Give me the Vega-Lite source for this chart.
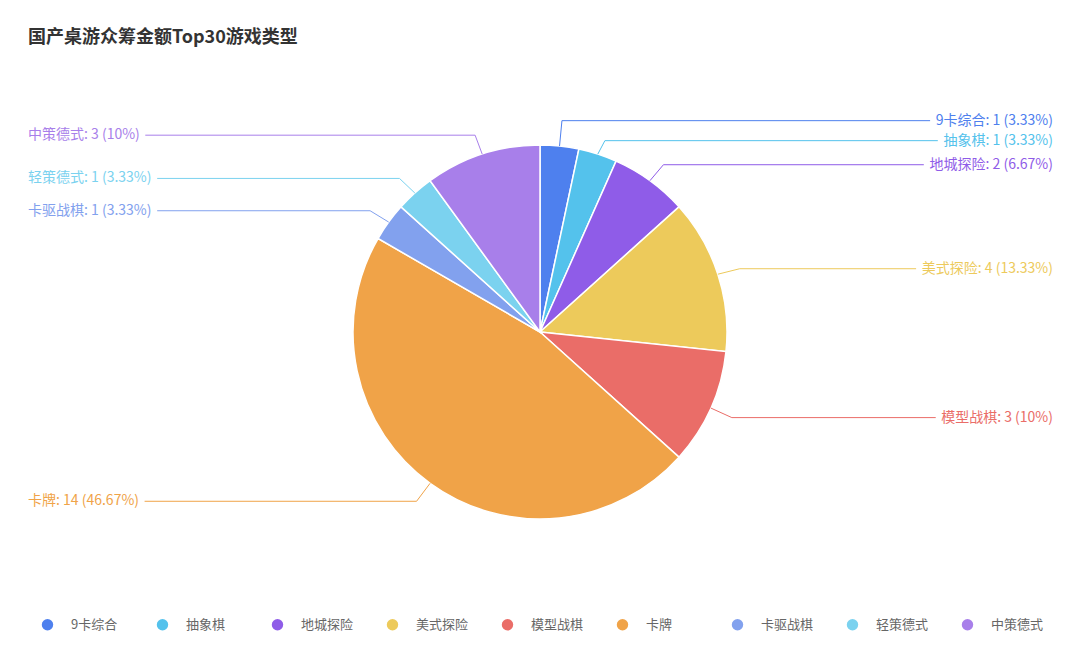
{
  "$schema": "https://vega.github.io/schema/vega-lite/v6.json",
  "width": 1080,
  "height": 610,
  "autosize": "none",
  "padding": {"top": 60, "left": 0, "right": 0, "bottom": 0},
  "background": "white",
  "title": {
    "text": "国产桌游众筹金额Top30游戏类型",
    "anchor": "start",
    "frame": "group",
    "dx": 28,
    "offset": 13,
    "fontSize": 18,
    "fontWeight": "bold",
    "color": "#333333",
    "font": "Noto Sans CJK SC"
  },
  "config": {
    "view": {"stroke": null},
    "font": "Noto Sans CJK SC"
  },
  "data": {
    "values": [
      {"category": "9卡综合", "value": 1},
      {"category": "抽象棋", "value": 1},
      {"category": "地城探险", "value": 2},
      {"category": "美式探险", "value": 4},
      {"category": "模型战棋", "value": 3},
      {"category": "卡牌", "value": 14},
      {"category": "卡驱战棋", "value": 1},
      {"category": "轻策德式", "value": 1},
      {"category": "中策德式", "value": 3}
    ]
  },
  "transform": [
    {"window": [{"op": "sum", "field": "value", "as": "cum"}, {"op": "row_number", "as": "idx"}], "frame": [null, 0]},
    {"joinaggregate": [{"op": "sum", "field": "value", "as": "total"}]},
    {"calculate": "(datum.cum - datum.value / 2) / datum.total * 2 * PI", "as": "mid"},
    {"calculate": "sin(datum.mid) >= 0 ? 1 : -1", "as": "side"},
    {"calculate": "187 * sin(datum.mid)", "as": "sx"},
    {"calculate": "-187 * cos(datum.mid)", "as": "sy"},
    {"calculate": "210 * sin(datum.mid)", "as": "ex"},
    {"calculate": "-208 * cos(datum.mid) + 1", "as": "ey0"},
    {
      "window": [
        {"op": "lag", "field": "ey0", "as": "prevY"},
        {"op": "lead", "field": "ey0", "as": "nextY"},
        {"op": "lag", "field": "side", "as": "prevSide"},
        {"op": "lead", "field": "side", "as": "nextSide"}
      ],
      "sort": [{"field": "idx"}]
    },
    {"calculate": "(isValid(datum.nextY) && datum.nextSide == datum.side) ? max(0, 20 - abs(datum.nextY - datum.ey0)) / 2 * (datum.nextY > datum.ey0 ? -1 : 1) : 0", "as": "pushN"},
    {"calculate": "(isValid(datum.prevY) && datum.prevSide == datum.side) ? max(0, 20 - abs(datum.ey0 - datum.prevY)) / 2 * (datum.ey0 > datum.prevY ? 1 : -1) : 0", "as": "pushP"},
    {"calculate": "datum.ey0 + datum.pushN + datum.pushP", "as": "ly"},
    {"calculate": "datum.category + ': ' + datum.value + ' (' + format(datum.value / datum.total * 100, '.2~f') + '%)'", "as": "label"},
    {"calculate": "length(replace(datum.label, regexp('[^ -~]', 'g'), ''))", "as": "nA"},
    {"calculate": "length(replace(datum.label, regexp('[^0-9]', 'g'), ''))", "as": "nD"},
    {"calculate": "14 * ((length(datum.label) - datum.nA) + 0.55 * datum.nD + 0.3 * (datum.nA - datum.nD - 1) + 0.87)", "as": "w"},
    {"calculate": "datum.side > 0 ? 513 - datum.w - 5 : -512 + datum.w + 5", "as": "lx"},
    {"calculate": "datum.side > 0 ? 513 : -512", "as": "tx"}
  ],
  "layer": [
    {
      "mark": {"type": "arc", "outerRadius": 187, "stroke": "white", "strokeWidth": 1.5},
      "encoding": {
        "theta": {"field": "value", "type": "quantitative", "stack": true},
        "order": {"field": "idx", "type": "quantitative"},
        "x": {"datum": 0, "type": "quantitative", "scale": {"domain": [-540, 540]}, "axis": null},
        "y": {"datum": 0, "type": "quantitative", "scale": {"domain": [-272, 338], "reverse": true}, "axis": null},
        "color": {
          "field": "category",
          "type": "nominal",
          "sort": null,
          "scale": {
            "domain": ["9卡综合", "抽象棋", "地城探险", "美式探险", "模型战棋", "卡牌", "卡驱战棋", "轻策德式", "中策德式"],
            "range": ["#4e80ee", "#54c2ec", "#8f5ce8", "#edca5b", "#ea6d68", "#f0a348", "#82a1ee", "#7bd2ef", "#a87fea"]
          },
          "legend": {
            "title": null,
            "orient": "none",
            "legendX": 41,
            "legendY": 558,
            "direction": "horizontal",
            "columns": 9,
            "gridAlign": "all",
            "columnPadding": 32,
            "symbolType": "circle",
            "symbolSize": 130,
            "symbolStrokeWidth": 0,
            "labelOffset": 17,
            "labelFontSize": 13,
            "labelColor": "#666666",
            "labelFont": "Noto Sans CJK SC",
            "padding": 0
          }
        }
      }
    },
    {
      "mark": {"type": "rule", "strokeWidth": 1},
      "encoding": {
        "x": {"field": "sx", "type": "quantitative", "scale": {"domain": [-540, 540]}, "axis": null},
        "y": {"field": "sy", "type": "quantitative", "scale": {"domain": [-272, 338], "reverse": true}, "axis": null},
        "x2": {"field": "ex"},
        "y2": {"field": "ly"},
        "color": {"field": "category", "type": "nominal", "sort": null, "legend": null}
      }
    },
    {
      "mark": {"type": "rule", "strokeWidth": 1},
      "encoding": {
        "x": {"field": "ex", "type": "quantitative", "scale": {"domain": [-540, 540]}, "axis": null},
        "y": {"field": "ly", "type": "quantitative", "scale": {"domain": [-272, 338], "reverse": true}, "axis": null},
        "x2": {"field": "lx"},
        "y2": {"field": "ly"},
        "color": {"field": "category", "type": "nominal", "sort": null, "legend": null}
      }
    },
    {
      "transform": [{"filter": "datum.side > 0"}],
      "mark": {"type": "text", "align": "right", "baseline": "middle", "fontSize": 14},
      "encoding": {
        "x": {"field": "tx", "type": "quantitative", "scale": {"domain": [-540, 540]}, "axis": null},
        "y": {"field": "ly", "type": "quantitative", "scale": {"domain": [-272, 338], "reverse": true}, "axis": null},
        "text": {"field": "label"},
        "color": {"field": "category", "type": "nominal", "sort": null, "legend": null}
      }
    },
    {
      "transform": [{"filter": "datum.side < 0"}],
      "mark": {"type": "text", "align": "left", "baseline": "middle", "fontSize": 14},
      "encoding": {
        "x": {"field": "tx", "type": "quantitative", "scale": {"domain": [-540, 540]}, "axis": null},
        "y": {"field": "ly", "type": "quantitative", "scale": {"domain": [-272, 338], "reverse": true}, "axis": null},
        "text": {"field": "label"},
        "color": {"field": "category", "type": "nominal", "sort": null, "legend": null}
      }
    }
  ]
}
